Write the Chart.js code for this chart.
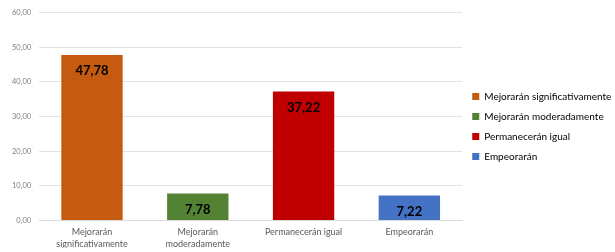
<!DOCTYPE html>
<html>
<head>
<meta charset="utf-8">
<style>
  html, body { margin: 0; padding: 0; background: #fff; }
  #wrap { width: 615px; height: 252px; }
</style>
</head>
<body>
<div id="wrap"><canvas id="chart" width="615" height="252"></canvas></div>
<script src="https://cdn.jsdelivr.net/npm/chart.js"></script>
<script>
  const categories = [
    ["Mejorarán", "significativamente"],
    ["Mejorarán", "moderadamente"],
    "Permanecerán igual",
    "Empeorarán"
  ];
  const legendNames = ["Mejorarán significativamente", "Mejorarán moderadamente", "Permanecerán igual", "Empeorarán"];
  const values = [47.78, 7.78, 37.22, 7.22];
  const colors = ["#C55A11", "#548235", "#C00000", "#4472C4"];

  const fmt = v => v.toFixed(2).replace(".", ",");

  // labels drawn inside the bar, near its top
  const valueLabels = {
    id: "valueLabels",
    afterDatasetsDraw(chart) {
      const ctx = chart.ctx;
      const meta = chart.getDatasetMeta(0);
      ctx.save();
      ctx.font = "bold 13px Lato, 'Open Sans', sans-serif";
      ctx.fillStyle = "#000";
      ctx.textAlign = "center";
      ctx.textBaseline = "middle";
      meta.data.forEach((bar, i) => {
        ctx.fillText(fmt(values[i]), bar.x, bar.y + 16);
      });
      ctx.restore();
    }
  };

  new Chart(document.getElementById("chart"), {
    type: "bar",
    data: {
      labels: categories,
      datasets: [{
        data: values,
        backgroundColor: colors,
        barPercentage: 0.58,
        categoryPercentage: 1
      }]
    },
    options: {
      responsive: false,
      animation: false,
      layout: { padding: { top: 5, right: 0, left: 4, bottom: 4 } },
      plugins: {
        tooltip: { enabled: false },
        legend: {
          position: "right",
          align: "center",
          labels: {
            boxWidth: 7,
            boxHeight: 7,
            padding: 10,
            color: "#595959",
            font: { family: "Lato, 'Open Sans', sans-serif", size: 10 },
            generateLabels: () => legendNames.map((n, i) => ({
              text: n,
              fillStyle: colors[i],
              strokeStyle: colors[i],
              lineWidth: 0,
              index: i
            }))
          }
        }
      },
      scales: {
        x: {
          grid: { display: false },
          border: { display: true, color: "#D9D9D9" },
          ticks: {
            color: "#595959",
            font: { family: "Lato, 'Open Sans', sans-serif", size: 9, lineHeight: 1.3 },
            maxRotation: 0,
            autoSkip: false,
            padding: -2
          }
        },
        y: {
          min: 0,
          max: 60,
          grid: { color: "#E3E3E3", drawTicks: false },
          border: { display: false },
          ticks: {
            stepSize: 10,
            color: "#7F7F7F",
            padding: 8,
            font: { family: "Lato, 'Open Sans', sans-serif", size: 7.5 },
            callback: v => fmt(v)
          }
        }
      }
    },
    plugins: [valueLabels]
  });
</script>
</body>
</html>
